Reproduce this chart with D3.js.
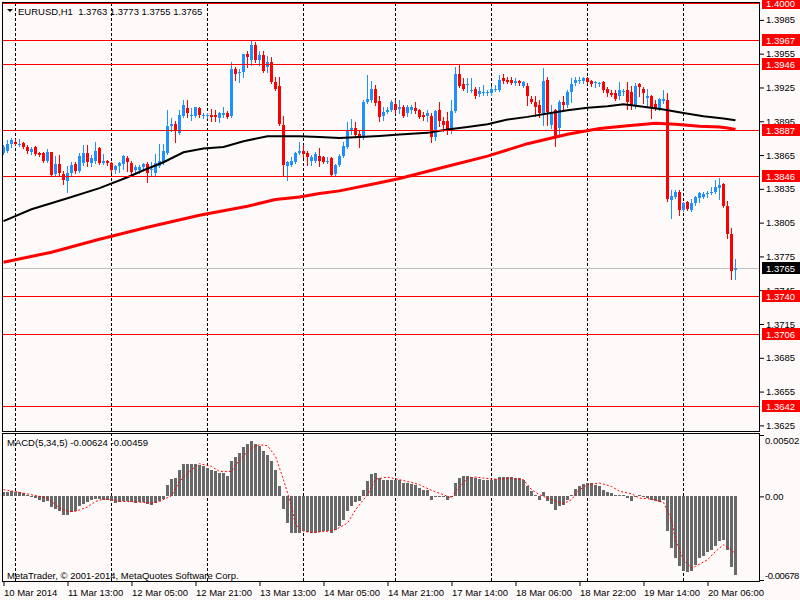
<!DOCTYPE html>
<html>
<head>
<meta charset="utf-8">
<script src="https://cdn.jsdelivr.net/npm/d3@7"></script>
<style>
  html, body { margin: 0; padding: 0; background: #fffafa; }
  svg { display: block; font-family: "Liberation Sans", Arial, sans-serif; }
</style>
</head>
<body>
<svg id="chart" width="800" height="600"></svg>
<script>
// EURUSD H1 bars, 10 Mar 21:00 .. 20 Mar 13:00
const opens = [
  1.3867,1.3869,1.3875,1.3877,1.3874,1.3876,1.3872,1.3868,1.3872,1.3867,1.3867,1.3860,1.3868,1.3848,1.3857,1.3848,
  1.3842,1.3849,1.3857,1.3851,1.3858,1.3867,1.3858,1.3860,1.3871,1.3858,1.3860,1.3858,1.3852,1.3855,1.3857,1.3862,
  1.3858,1.3852,1.3852,1.3854,1.3857,1.3852,1.3849,1.3855,1.3858,1.3867,1.3891,1.3893,1.3885,1.3900,1.3907,1.3900,
  1.3900,1.3907,1.3900,1.3900,1.3901,1.3901,1.3898,1.3901,1.3902,1.3900,1.3941,1.3938,1.3939,1.3955,1.3949,1.3963,
  1.3949,1.3954,1.3943,1.3948,1.3930,1.3926,1.3892,1.3855,1.3856,1.3859,1.3867,1.3869,1.3867,1.3860,1.3860,1.3864,
  1.3863,1.3859,1.3862,1.3848,1.3856,1.3864,1.3872,1.3886,1.3889,1.3884,1.3880,1.3912,1.3914,1.3924,1.3913,1.3900,
  1.3903,1.3905,1.3910,1.3906,1.3908,1.3902,1.3905,1.3907,1.3905,1.3901,1.3900,1.3900,1.3881,1.3905,1.3895,1.3895,
  1.3886,1.3904,1.3937,1.3928,1.3927,1.3922,1.3924,1.3919,1.3920,1.3920,1.3920,1.3923,1.3923,1.3933,1.3932,1.3932,
  1.3929,1.3931,1.3926,1.3926,1.3915,1.3912,1.3909,1.3902,1.3932,1.3892,1.3905,1.3889,1.3912,1.3909,1.3921,1.3929,
  1.3931,1.3931,1.3933,1.3931,1.3929,1.3928,1.3930,1.3924,1.3920,1.3920,1.3917,1.3921,1.3923,1.3921,1.3909,1.3928,
  1.3924,1.3916,1.3917,1.3910,1.3906,1.3913,1.3914,1.3825,1.3828,1.3832,1.3816,1.3823,1.3816,1.3822,1.3827,1.3828,
  1.3830,1.3831,1.3832,1.3836,1.3839,1.3820,1.3795,1.3763
];
const highs = [
  1.3874,1.3878,1.3880,1.3879,1.3879,1.3877,1.3874,1.3872,1.3873,1.3868,1.3868,1.3870,1.3868,1.3864,1.3865,1.3851,
  1.3855,1.3859,1.3859,1.3867,1.3874,1.3874,1.3865,1.3877,1.3872,1.3866,1.3861,1.3859,1.3856,1.3859,1.3865,1.3864,
  1.3860,1.3856,1.3856,1.3858,1.3859,1.3859,1.3866,1.3875,1.3875,1.3905,1.3898,1.3895,1.3905,1.3914,1.3914,1.3907,
  1.3908,1.3908,1.3902,1.3902,1.3906,1.3905,1.3903,1.3908,1.3904,1.3948,1.3943,1.3941,1.3955,1.3957,1.3966,1.3965,
  1.3957,1.3957,1.3953,1.3952,1.3934,1.3934,1.3900,1.3860,1.3863,1.3868,1.3877,1.3874,1.3869,1.3865,1.3868,1.3871,
  1.3864,1.3863,1.3863,1.3857,1.3866,1.3877,1.3894,1.3897,1.3894,1.3886,1.3914,1.3936,1.3931,1.3927,1.3917,1.3908,
  1.3908,1.3914,1.3914,1.3914,1.3909,1.3909,1.3909,1.3912,1.3906,1.3903,1.3905,1.3902,1.3905,1.3912,1.3899,1.3903,
  1.3914,1.3943,1.3946,1.3933,1.3933,1.3933,1.3925,1.3925,1.3927,1.3923,1.3926,1.3927,1.3936,1.3937,1.3934,1.3934,
  1.3933,1.3932,1.3931,1.3929,1.3917,1.3917,1.3914,1.3942,1.3934,1.3909,1.3906,1.3914,1.3917,1.3923,1.3933,1.3934,
  1.3934,1.3934,1.3934,1.3932,1.3931,1.3930,1.3931,1.3925,1.3923,1.3923,1.3930,1.3924,1.3930,1.3926,1.3929,1.3929,
  1.3925,1.3924,1.3918,1.3914,1.3916,1.3923,1.3920,1.3834,1.3834,1.3834,1.3823,1.3824,1.3826,1.3829,1.3832,1.3832,
  1.3833,1.3837,1.3843,1.3845,1.3840,1.3824,1.3800,1.3773
];
const lows = [
  1.3866,1.3868,1.3872,1.3874,1.3873,1.3871,1.3867,1.3866,1.3865,1.3864,1.3859,1.3859,1.3846,1.3846,1.3847,1.3839,
  1.3832,1.3847,1.3849,1.3850,1.3856,1.3855,1.3855,1.3858,1.3857,1.3857,1.3856,1.3850,1.3849,1.3850,1.3853,1.3851,
  1.3848,1.3849,1.3849,1.3852,1.3841,1.3846,1.3846,1.3854,1.3857,1.3866,1.3886,1.3877,1.3884,1.3899,1.3899,1.3896,
  1.3899,1.3899,1.3898,1.3898,1.3895,1.3895,1.3894,1.3899,1.3898,1.3899,1.3932,1.3930,1.3934,1.3943,1.3945,1.3948,
  1.3945,1.3939,1.3939,1.3929,1.3923,1.3892,1.3847,1.3843,1.3855,1.3858,1.3866,1.3863,1.3856,1.3856,1.3859,1.3855,
  1.3858,1.3858,1.3846,1.3847,1.3855,1.3863,1.3871,1.3884,1.3881,1.3872,1.3879,1.3911,1.3912,1.3909,1.3895,1.3896,
  1.3902,1.3904,1.3902,1.3902,1.3899,1.3900,1.3902,1.3902,1.3898,1.3896,1.3895,1.3877,1.3878,1.3891,1.3886,1.3884,
  1.3885,1.3903,1.3925,1.3923,1.3921,1.3921,1.3916,1.3917,1.3918,1.3918,1.3918,1.3922,1.3922,1.3929,1.3929,1.3928,
  1.3927,1.3927,1.3925,1.3909,1.3911,1.3900,1.3899,1.3892,1.3892,1.3889,1.3873,1.3884,1.3905,1.3908,1.3912,1.3927,
  1.3929,1.3929,1.3929,1.3926,1.3925,1.3926,1.3921,1.3917,1.3917,1.3914,1.3915,1.3918,1.3906,1.3906,1.3907,1.3917,
  1.3911,1.3908,1.3898,1.3905,1.3905,1.3911,1.3824,1.3809,1.3827,1.3812,1.3815,1.3816,1.3815,1.3821,1.3823,1.3827,
  1.3828,1.3830,1.3831,1.3826,1.3819,1.3791,1.3755,1.3755
];
const closes = [
  1.3872,1.3875,1.3878,1.3875,1.3875,1.3872,1.3869,1.3870,1.3866,1.3865,1.3860,1.3868,1.3847,1.3857,1.3849,1.3843,
  1.3849,1.3856,1.3851,1.3864,1.3867,1.3859,1.3862,1.3869,1.3858,1.3860,1.3858,1.3852,1.3855,1.3858,1.3864,1.3859,
  1.3850,1.3854,1.3854,1.3857,1.3849,1.3853,1.3858,1.3860,1.3869,1.3891,1.3893,1.3886,1.3901,1.3909,1.3902,1.3901,
  1.3908,1.3901,1.3901,1.3901,1.3899,1.3899,1.3902,1.3902,1.3899,1.3941,1.3937,1.3939,1.3955,1.3952,1.3963,1.3949,
  1.3954,1.3940,1.3948,1.3930,1.3924,1.3893,1.3856,1.3859,1.3860,1.3867,1.3869,1.3866,1.3863,1.3863,1.3866,1.3860,
  1.3859,1.3860,1.3847,1.3856,1.3864,1.3873,1.3886,1.3889,1.3883,1.3880,1.3912,1.3915,1.3924,1.3911,1.3899,1.3903,
  1.3905,1.3912,1.3905,1.3908,1.3900,1.3908,1.3908,1.3904,1.3899,1.3899,1.3902,1.3881,1.3904,1.3895,1.3892,1.3886,
  1.3904,1.3937,1.3926,1.3924,1.3928,1.3923,1.3917,1.3922,1.3921,1.3921,1.3924,1.3924,1.3932,1.3931,1.3930,1.3929,
  1.3931,1.3929,1.3930,1.3917,1.3912,1.3908,1.3902,1.3931,1.3903,1.3903,1.3880,1.3912,1.3909,1.3921,1.3928,1.3932,
  1.3932,1.3933,1.3930,1.3928,1.3930,1.3929,1.3923,1.3920,1.3918,1.3915,1.3923,1.3922,1.3912,1.3909,1.3926,1.3925,
  1.3920,1.3917,1.3908,1.3907,1.3915,1.3915,1.3826,1.3829,1.3832,1.3816,1.3822,1.3817,1.3822,1.3828,1.3831,1.3830,
  1.3831,1.3832,1.3837,1.3838,1.3820,1.3795,1.3762,1.3765
];

// moving averages, read at these bar positions
const maBlackIdx = [0,7,16,24,31,35,40,45,50,55,60,66,74,79,84,89,94,99,106,111,116,121,126,131,136,141,146,151,155,160,165,170,175,180,183];
const maBlackVal = [1.38063,1.38169,1.38267,1.38356,1.38453,1.38515,1.38586,1.38675,1.38708,1.38722,1.38773,1.38817,1.38817,1.38811,
  1.38802,1.38811,1.38820,1.38832,1.38847,1.38877,1.38900,1.38924,1.38966,1.38989,1.39019,1.39048,1.39069,1.39084,1.39101,
  1.39078,1.39054,1.39024,1.38995,1.38975,1.38959];
const maRedIdx = [0,12,24,36,49,61,68,74,79,84,94,99,111,121,131,141,149,156,163,168,174,179,181,183];
const maRedVal = [1.37699,1.37787,1.37903,1.38009,1.38116,1.38196,1.38255,1.38278,1.38309,1.38332,1.38404,1.38442,1.38551,
  1.38640,1.38751,1.38835,1.38886,1.38911,1.38933,1.38924,1.38906,1.38900,1.38891,1.38877];

// MACD(5,34,5) main values per bar
const macdHist = [
  0.00032,0.00032,0.00040,0.00037,0.00037,0.00026,0.00013,0.00005,-0.00013,-0.00026,-0.00042,-0.00040,-0.00087,-0.00100,-0.00119,-0.00145,
  -0.00145,-0.00127,-0.00119,-0.00079,-0.00058,-0.00048,-0.00032,-0.00021,-0.00021,-0.00026,-0.00026,-0.00040,-0.00053,-0.00048,-0.00040,-0.00040,
  -0.00048,-0.00053,-0.00048,-0.00048,-0.00058,-0.00066,-0.00053,-0.00040,-0.00021,0.00092,0.00137,0.00145,0.00211,0.00259,0.00259,0.00259,
  0.00259,0.00251,0.00238,0.00224,0.00211,0.00198,0.00185,0.00185,0.00164,0.00277,0.00312,0.00343,0.00391,0.00417,0.00436,0.00417,
  0.00396,0.00356,0.00330,0.00277,0.00206,0.00084,-0.00100,-0.00211,-0.00290,-0.00290,-0.00290,-0.00277,-0.00285,-0.00290,-0.00290,-0.00285,
  -0.00277,-0.00277,-0.00290,-0.00264,-0.00238,-0.00190,-0.00119,-0.00074,-0.00048,-0.00040,0.00053,0.00119,0.00180,0.00185,0.00145,0.00132,
  0.00132,0.00132,0.00132,0.00127,0.00106,0.00106,0.00100,0.00092,0.00066,0.00053,0.00048,-0.00026,-0.00005,0.00005,-0.00005,-0.00026,
  0.00003,0.00106,0.00145,0.00158,0.00158,0.00153,0.00145,0.00137,0.00132,0.00132,0.00132,0.00137,0.00153,0.00153,0.00153,0.00153,
  0.00145,0.00145,0.00132,0.00079,0.00040,0.00013,-0.00032,0.00032,-0.00040,-0.00058,-0.00111,-0.00079,-0.00066,-0.00026,0.00013,0.00058,
  0.00084,0.00100,0.00106,0.00106,0.00092,0.00079,0.00048,0.00032,0.00026,0.00013,0.00013,0.00013,-0.00013,-0.00040,-0.00008,0.00011,
  -0.00005,-0.00013,-0.00026,-0.00040,-0.00048,-0.00032,-0.00277,-0.00409,-0.00488,-0.00554,-0.00594,-0.00602,-0.00594,-0.00541,-0.00488,-0.00475,
  -0.00444,-0.00422,-0.00396,-0.00356,-0.00343,-0.00428,-0.00560,-0.00624
];
// MACD signal line, read at these bar positions
const signalIdx = [0,4,7,11,14,16,18,21,23,25,27,29,32,37,39,42,44,47,49,52,54,57,59,62,64,66,68,70,72,73,75,77,81,83,86,88,
  91,93,96,99,102,104,107,110,112,113,116,118,122,125,127,130,132,134,137,140,142,144,146,149,152,154,157,159,162,165,167,168,
  170,172,173,176,178,180,182,183];
const signalVal = [0.00053,0.00032,0.00013,-0.00013,-0.00092,-0.00119,-0.00119,-0.00084,-0.00040,-0.00021,-0.00026,-0.00040,
  -0.00040,-0.00053,-0.00040,0.00005,0.00119,0.00211,0.00259,0.00238,0.00198,0.00198,0.00290,0.00383,0.00409,0.00401,0.00317,
  0.00132,-0.00079,-0.00224,-0.00277,-0.00285,-0.00277,-0.00264,-0.00211,-0.00106,0.00013,0.00137,0.00153,0.00132,0.00111,
  0.00092,0.00048,0.00013,-0.00013,0.00040,0.00145,0.00153,0.00137,0.00137,0.00145,0.00132,0.00053,0.00013,-0.00026,-0.00058,
  -0.00026,0.00053,0.00092,0.00106,0.00079,0.00040,0.00021,-0.00013,-0.00021,-0.00048,-0.00185,-0.00343,-0.00502,-0.00568,
  -0.00554,-0.00502,-0.00436,-0.00383,-0.00422,-0.00459];

const levels = [1.4000, 1.3967, 1.3946, 1.3887, 1.3846, 1.3740, 1.3706, 1.3642];
const priceTicks = [1.3985, 1.3955, 1.3925, 1.3895, 1.3865, 1.3835, 1.3805, 1.3775, 1.3745, 1.3715, 1.3685, 1.3655, 1.3625];
const macdTicks = [0.00502, 0, -0.00678];
const macdTickLabels = ["0.00502", "0.00", "-0.00678"];
const timeIdx = [0, 16, 32, 48, 64, 80, 96, 112, 128, 144, 160, 176];
const timeLabels = ["10 Mar 2014", "11 Mar 13:00", "12 Mar 05:00", "12 Mar 21:00", "13 Mar 13:00", "14 Mar 05:00",
  "14 Mar 21:00", "17 Mar 14:00", "18 Mar 06:00", "18 Mar 22:00", "19 Mar 14:00", "20 Mar 06:00"];
const dayStartIdx = [3, 27, 51, 75, 98, 122, 146, 170];

const BULL = "#1e90ff", BEAR = "#ff0000", FONT = "9.5px";
const left = 3, right = 759.5;
const mainTop = 3, mainBottom = 431, macdTop = 433, macdBottom = 582;

const svg = d3.select("#chart");
const n = closes.length;
const bars = d3.range(n).map(i => ({ i, o: opens[i], h: highs[i], l: lows[i], c: closes[i] }));

const x = d3.scaleLinear().domain([0, n - 1]).range([3.5, 3.5 + 4 * (n - 1)]);
const y = d3.scaleLinear().domain([1.3620, 1.4000]).range([mainBottom, mainTop]);
const ym = d3.scaleLinear().domain([-0.00678, 0.00502]).range([macdBottom, macdTop]);

svg.append("rect").attr("width", 800).attr("height", 600).attr("fill", "#fffafa");

const defs = svg.append("defs");
defs.append("clipPath").attr("id", "clipMain").append("rect")
  .attr("x", left).attr("y", mainTop).attr("width", right - left).attr("height", mainBottom - mainTop);
defs.append("clipPath").attr("id", "clipMacd").append("rect")
  .attr("x", left).attr("y", macdTop).attr("width", right - left).attr("height", macdBottom - macdTop);

// day separators
const grid = svg.append("g").attr("stroke", "#000").attr("stroke-width", 1).attr("stroke-dasharray", "3,2");
dayStartIdx.forEach(d => {
  const gx = Math.floor(x(d)) + 0.5;
  grid.append("line").attr("x1", gx).attr("x2", gx).attr("y1", mainTop).attr("y2", mainBottom);
  grid.append("line").attr("x1", gx).attr("x2", gx).attr("y1", macdTop).attr("y2", macdBottom);
});

const main = svg.append("g").attr("clip-path", "url(#clipMain)");

// current price line
main.append("line").attr("x1", left).attr("x2", right)
  .attr("y1", Math.round(y(closes[n - 1])) + 0.5).attr("y2", Math.round(y(closes[n - 1])) + 0.5)
  .attr("stroke", "#c0c0c0");

// candles
const cg = main.append("g");
cg.selectAll("line.wick").data(bars).join("line").attr("class", "wick")
  .attr("x1", d => x(d.i)).attr("x2", d => x(d.i))
  .attr("y1", d => Math.round(y(d.h))).attr("y2", d => Math.round(y(d.l)) + 1)
  .attr("stroke", d => d.c >= d.o ? BULL : BEAR);
cg.selectAll("rect.body").data(bars).join("rect").attr("class", "body")
  .attr("x", d => x(d.i) - 1.5).attr("width", 3)
  .attr("y", d => Math.round(y(Math.max(d.o, d.c))))
  .attr("height", d => Math.max(1, Math.round(y(Math.min(d.o, d.c))) - Math.round(y(Math.max(d.o, d.c)))))
  .attr("fill", d => d.c >= d.o ? BULL : BEAR);

// moving averages
const maLine = d3.line().x(d => x(d[0])).y(d => y(d[1]));
main.append("path").datum(maRedIdx.map((d, k) => [d, maRedVal[k]]))
  .attr("d", maLine).attr("fill", "none").attr("stroke", "#ff0000").attr("stroke-width", 3);
main.append("path").datum(maBlackIdx.map((d, k) => [d, maBlackVal[k]]))
  .attr("d", maLine).attr("fill", "none").attr("stroke", "#000").attr("stroke-width", 2);

// horizontal levels
main.selectAll("line.level").data(levels).join("line").attr("class", "level")
  .attr("x1", left).attr("x2", right)
  .attr("y1", d => Math.round(y(d)) + 0.5).attr("y2", d => Math.round(y(d)) + 0.5)
  .attr("stroke", "#ff0000");

// MACD window
const mg = svg.append("g").attr("clip-path", "url(#clipMacd)");
mg.selectAll("rect").data(macdHist).join("rect")
  .attr("x", (d, i) => x(i) - 1.5).attr("width", 3)
  .attr("y", d => Math.round(ym(Math.max(0, d))))
  .attr("height", d => Math.max(1, Math.abs(Math.round(ym(d)) - Math.round(ym(0)))))
  .attr("fill", "#696969");
mg.append("path").datum(signalIdx.map((d, k) => [d, signalVal[k]]))
  .attr("d", d3.line().x(d => x(d[0])).y(d => ym(d[1])))
  .attr("fill", "none").attr("stroke", "#ff0000").attr("stroke-width", 1).attr("stroke-dasharray", "2,2");

// frames
svg.append("rect").attr("x", left - 0.5).attr("y", mainTop - 0.5)
  .attr("width", right - left + 0.5).attr("height", mainBottom - mainTop + 1)
  .attr("fill", "none").attr("stroke", "#000");
svg.append("rect").attr("x", left - 0.5).attr("y", macdTop + 0.5)
  .attr("width", right - left + 0.5).attr("height", macdBottom - macdTop - 1)
  .attr("fill", "none").attr("stroke", "#000");
// top level line sits on the frame
svg.append("line").attr("x1", left).attr("x2", right)
  .attr("y1", Math.round(y(levels[0])) + 0.5).attr("y2", Math.round(y(levels[0])) + 0.5)
  .attr("stroke", "#ff0000");

// price axis
const pa = svg.append("g").attr("transform", `translate(${right + 0.5},0)`)
  .call(d3.axisRight(y).tickValues(priceTicks).tickSize(4).tickPadding(2).tickFormat(d3.format(".4f")));
pa.select(".domain").remove();
pa.selectAll("line").attr("stroke", "#000");
pa.selectAll("text").attr("fill", "#000").style("font-size", FONT).style("font-family", "Liberation Sans, Arial, sans-serif");

// level labels
const tags = svg.append("g");
levels.forEach(v => {
  const cy = Math.round(y(v));
  tags.append("rect").attr("x", 762).attr("y", cy - 6).attr("width", 38).attr("height", 12).attr("fill", "#ff0000");
  tags.append("text").attr("x", 766).attr("y", cy + 3.5).attr("fill", "#fff").style("font-size", FONT)
    .text(d3.format(".4f")(v));
});
const cyNow = Math.round(y(closes[n - 1]));
tags.append("rect").attr("x", 762).attr("y", cyNow - 6).attr("width", 38).attr("height", 12).attr("fill", "#000");
tags.append("text").attr("x", 766).attr("y", cyNow + 3.5).attr("fill", "#fff").style("font-size", FONT)
  .text(d3.format(".4f")(closes[n - 1]));

// MACD axis
const ma = svg.append("g").attr("transform", `translate(${right + 0.5},0)`)
  .call(d3.axisRight(ym).tickValues(macdTicks).tickSize(4).tickPadding(1).tickFormat((d, k) => macdTickLabels[k]));
ma.select(".domain").remove();
ma.selectAll("line").attr("stroke", "#000");
ma.selectAll("text").attr("fill", "#000").style("font-size", FONT).style("font-family", "Liberation Sans, Arial, sans-serif")
  .style("letter-spacing", (d, k) => k === 2 ? "-0.45px" : null)
  .attr("dy", (d, k) => k === 0 ? "1.15em" : (k === 2 ? "-0.35em" : "0.32em"));
ma.selectAll(".tick line").attr("y1", (d, k) => k === 0 ? 2 : (k === 2 ? -2 : 0)).attr("y2", (d, k) => k === 0 ? 2 : (k === 2 ? -2 : 0));

// time axis
const ta = svg.append("g").attr("transform", `translate(0,${macdBottom})`)
  .call(d3.axisBottom(x).tickValues(timeIdx).tickSize(4).tickPadding(3).tickFormat((d, k) => timeLabels[k]));
ta.select(".domain").remove();
ta.selectAll("line").attr("stroke", "#000");
ta.selectAll("text").attr("fill", "#000").attr("text-anchor", "start").style("font-size", FONT)
  .style("font-family", "Liberation Sans, Arial, sans-serif");

// captions
svg.append("path").attr("d", "M7,9L13,9L10,12Z").attr("fill", "#000");
svg.append("text").attr("x", 18).attr("y", 14.5).style("font-size", FONT).attr("fill", "#000")
  .style("white-space", "pre")
  .text(`EURUSD,H1  ${opens[n - 1].toFixed(4)} ${highs[n - 1].toFixed(4)} ${lows[n - 1].toFixed(4)} ${closes[n - 1].toFixed(4)}`);
svg.append("text").attr("x", 7).attr("y", 446).style("font-size", FONT).attr("fill", "#000")
  .text(`MACD(5,34,5) ${macdHist[n - 1].toFixed(5)} ${signalVal[signalVal.length - 1].toFixed(5)}`);
svg.append("text").attr("x", 7).attr("y", 578.5).style("font-size", FONT).attr("fill", "#000")
  .text("MetaTrader, © 2001-2014, MetaQuotes Software Corp.");
</script>
</body>
</html>
